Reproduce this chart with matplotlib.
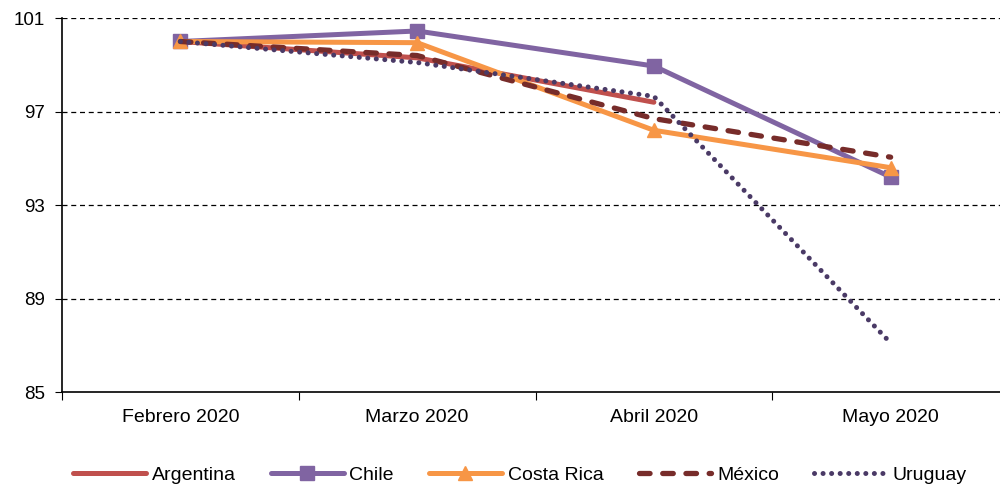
import matplotlib.pyplot as plt
import numpy as np

plt.rcParams["font.family"] = ["Liberation Sans", "DejaVu Sans"]

# Monthly index, February 2020 = 100
months = ["Febrero 2020", "Marzo 2020", "Abril 2020", "Mayo 2020"]
argentina = [100.0, 99.3, 97.4]
chile = [100.0, 100.45, 98.95, 94.2]
costa_rica = [100.0, 99.95, 96.2, 94.6]
mexico = [100.0, 99.4, 96.7, 95.05]
uruguay = [100.0, 99.1, 97.65, 87.1]

x = np.arange(len(months)) + 0.5

fig = plt.figure(figsize=(10, 4.9), dpi=100)
ax = fig.add_axes([0.062, 0.2, 0.947, 0.763])

ax.plot(x[:3], argentina, color="#C0504D", lw=3.6, label="Argentina", solid_capstyle="round")
ax.plot(x, chile, color="#8064A2", lw=3.6, marker="s", ms=10.5, label="Chile", solid_capstyle="round")
ax.plot(x, costa_rica, color="#F79646", lw=3.6, marker="^", ms=10.5, label="Costa Rica", solid_capstyle="round")
ax.plot(x, mexico, color="#772C2A", lw=3.8, ls=(0, (2, 2.4)), dash_capstyle="round", label="México")
ax.plot(x, uruguay, color="#4A3A66", lw=3.6, ls=(0, (0.01, 1.7)), dash_capstyle="round", label="Uruguay")

ax.set_xlim(0, 4)
ax.set_ylim(85, 101)
ax.set_yticks([85, 89, 93, 97, 101])
ax.set_xticks(x)
ax.set_xticklabels(months)
ax.set_xticks(np.arange(0, 5), minor=True)
ax.tick_params(axis="x", which="major", length=0, pad=12, labelsize=14)
ax.tick_params(axis="x", which="minor", length=6, width=0.8)
ax.tick_params(axis="y", length=5, width=0.8, labelsize=13.5, pad=7)

for v in [89, 93, 97, 101]:
    ax.axhline(v, color="black", lw=0.9, ls=(0, (4, 3)), zorder=0)

for s in ["top", "right"]:
    ax.spines[s].set_visible(False)
ax.spines["left"].set_linewidth(1.2)
ax.spines["bottom"].set_linewidth(1.2)

fig.legend(loc="center", ncol=5, frameon=False, fontsize=14,
           handlelength=3.75, columnspacing=1.8, handletextpad=0.3,
           bbox_to_anchor=(0.52, 0.031))

fig.savefig("out.png", dpi=100)
